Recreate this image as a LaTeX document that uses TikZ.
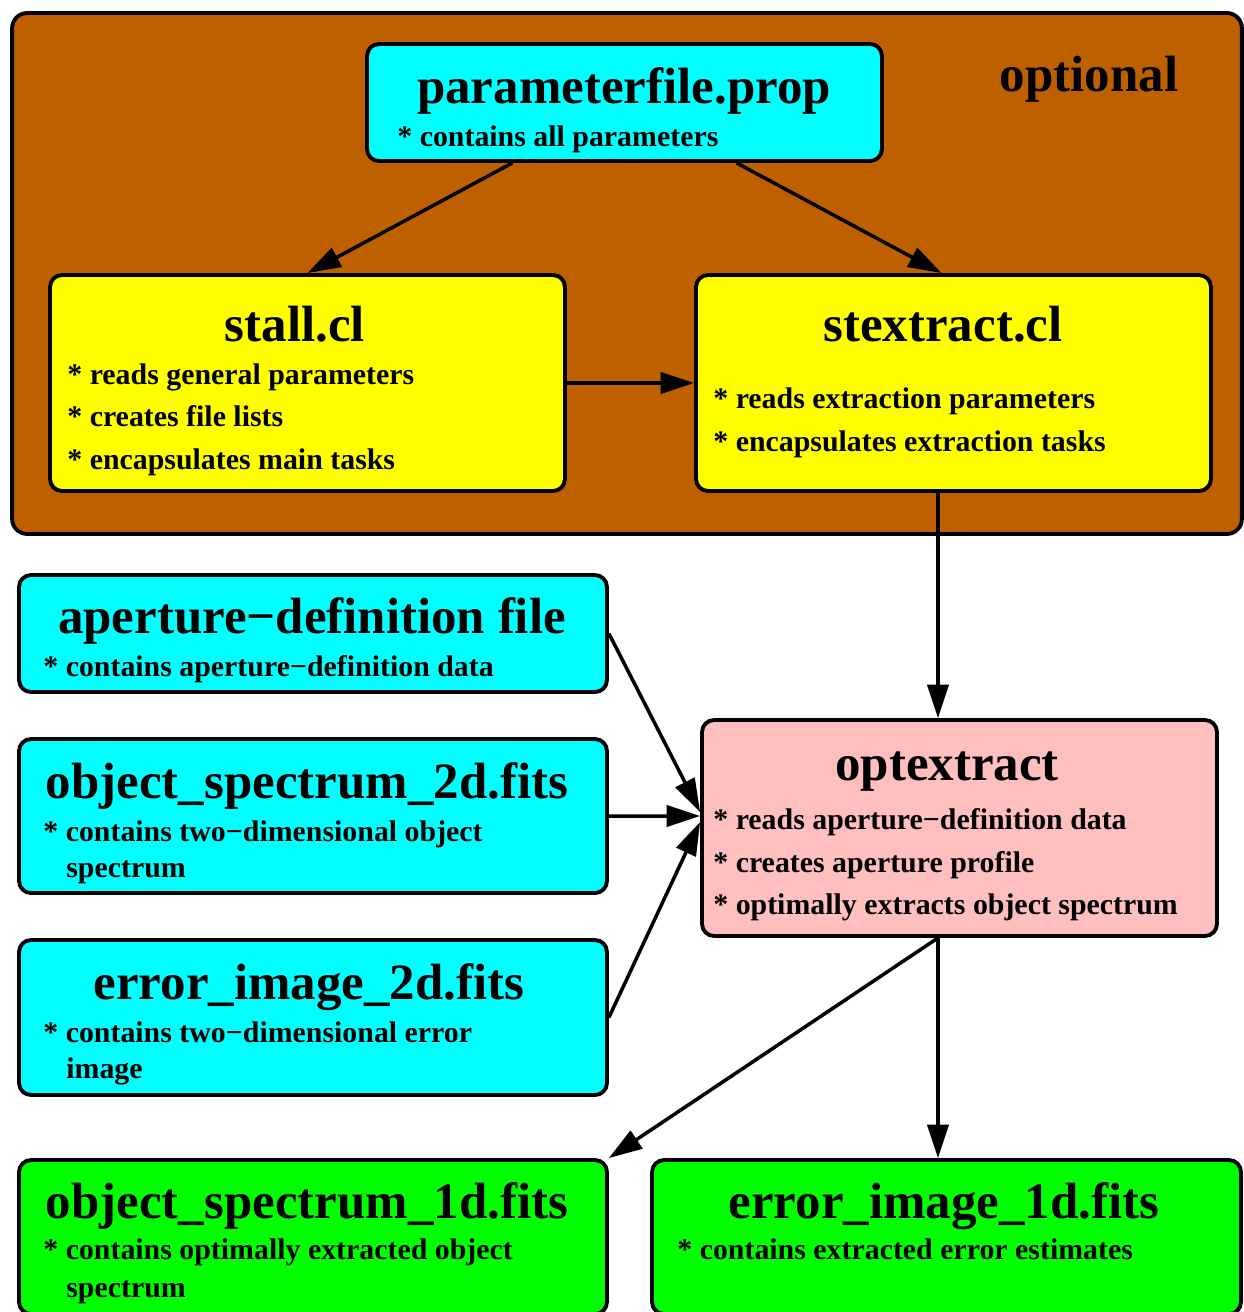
\documentclass[tikz,border=0pt]{standalone}
\usepackage{fontspec}
\setmainfont{Liberation Serif}
\usepackage{xcolor}
\usepackage{tikz}
\usetikzlibrary{arrows.meta}

\definecolor{optbrown}{RGB}{191,96,0}
\definecolor{filecyan}{RGB}{0,255,255}
\definecolor{taskyellow}{RGB}{255,255,0}
\definecolor{extpink}{RGB}{255,191,191}
\definecolor{outgreen}{RGB}{0,255,0}

\tikzset{
  box/.style={draw=black,line width=2.2pt,rounded corners=0.24cm,inner sep=0pt},
  title/.style={font=\fontsize{29}{33}\selectfont\bfseries,anchor=base,inner sep=0pt},
  item/.style={font=\fontsize{17}{20}\selectfont\bfseries,anchor=base west,inner sep=0pt},
  flow/.style={line width=2pt,-{Triangle[length=19pt,width=12pt]}}
}

\begin{document}
\begin{tikzpicture}[x=0.02cm,y=-0.02cm]
    \useasboundingbox (0,0) rectangle (1244,1312);
    \coordinate (colx) at (938,0);

    % optional part
    \node[box,fill=optbrown,rounded corners=0.3cm,minimum width=24.6cm,minimum height=10.42cm] (grp) at (627,273.5) {};
    \node[title] (grp-t) at (1089,91) {optional};

    \node[box,fill=filecyan,minimum width=10.3cm,minimum height=2.34cm] (param) at (624.5,102.5) {};
    \node[title] (param-t) at (624,103) {parameterfile.prop};
    \node[item] (param-1) at (397,146) {* contains all parameters};

    \node[box,fill=taskyellow,minimum width=10.3cm,minimum height=4.32cm] (stall) at (307.5,383) {};
    \node[title] (stall-t) at (295,341) {stall.cl};
    \node[item] (stall-1) at (67,384) {* reads general parameters};
    \node[item] (stall-2) at (67,426) {* creates file lists};
    \node[item] (stall-3) at (67,469) {* encapsulates main tasks};

    \node[box,fill=taskyellow,minimum width=10.3cm,minimum height=4.32cm] (stextract) at (953.5,383) {};
    \node[title] (stextract-t) at (943,341) {stextract.cl};
    \node[item] (stextract-1) at (713,408) {* reads extraction parameters};
    \node[item] (stextract-2) at (713,451) {* encapsulates extraction tasks};

    % input files
    \node[box,fill=filecyan,minimum width=11.76cm,minimum height=2.34cm] (aperture) at (313,633.5) {};
    \node[title] (aperture-t) at (312,633) {aperture−definition file};
    \node[item] (aperture-1) at (43,676) {* contains aperture−definition data};

    \node[box,fill=filecyan,minimum width=11.76cm,minimum height=3.08cm] (obj2d) at (313,816) {};
    \node[title] (obj2d-t) at (307,798) {object\_spectrum\_2d.fits};
    \node[item] (obj2d-1) at (43,841) {* contains two−dimensional object};
    \node[item] (obj2d-2) at (66,877) {spectrum};

    \node[box,fill=filecyan,minimum width=11.76cm,minimum height=3.1cm] (err2d) at (313,1017.5) {};
    \node[title] (err2d-t) at (309,999) {error\_image\_2d.fits};
    \node[item] (err2d-1) at (43,1042) {* contains two−dimensional error};
    \node[item] (err2d-2) at (66,1078) {image};

    \node[box,fill=extpink,minimum width=10.3cm,minimum height=4.32cm] (optx) at (959.5,828) {};
    \node[title] (optx-t) at (947,780) {optextract};
    \node[item] (optx-1) at (713,829) {* reads aperture−definition data};
    \node[item] (optx-2) at (713,872) {* creates aperture profile};
    \node[item] (optx-3) at (713,914) {* optimally extracts object spectrum};

    % output files
    \node[box,fill=outgreen,minimum width=11.76cm,minimum height=3.08cm] (obj1d) at (313,1237) {};
    \node[title] (obj1d-t) at (307,1218) {object\_spectrum\_1d.fits};
    \node[item] (obj1d-1) at (43,1259) {* contains optimally extracted object};
    \node[item] (obj1d-2) at (66,1297) {spectrum};

    \node[box,fill=outgreen,minimum width=11.78cm,minimum height=3.08cm] (err1d) at (946.5,1237) {};
    \node[title] (err1d-t) at (944,1218) {error\_image\_1d.fits};
    \node[item] (err1d-1) at (677,1259) {* contains extracted error estimates};

    % arrows
    \draw[flow] (param) -- (stall.north);
    \draw[flow] (param) -- ([xshift=-0.24cm]stextract.north);
    \draw[flow] (stall) -- (stextract);
    \draw[flow] (stextract.south -| colx) -- (optx.north -| colx);
    \draw[flow] (aperture.east) -- ([yshift=0.32cm]optx.west);
    \draw[flow] (obj2d.east) -- ([yshift=0.24cm]optx.west);
    \draw[flow] (err2d.east) -- ([yshift=0.12cm]optx.west);
    \draw[flow] (optx.south -| colx) -- (obj1d.north east);
    \draw[flow] (optx.south -| colx) -- (err1d.north -| colx);
  \end{tikzpicture}
\end{document}
